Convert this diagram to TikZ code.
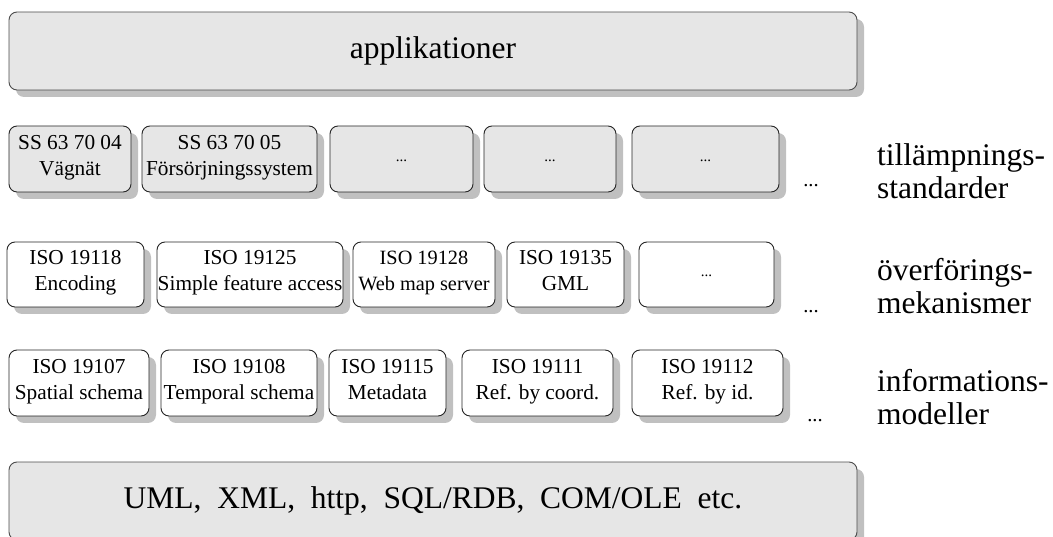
\documentclass[tikz,border=0pt]{standalone}
\usepackage{fontspec}
\setmainfont{Liberation Serif}
\usetikzlibrary{shadows}
\definecolor{boxgray}{HTML}{E6E6E6}
\definecolor{shadowgray}{HTML}{C0C0C0}
\begin{document}
\begin{tikzpicture}[x=1pt,y=-1pt,
  box/.style={draw=black!85, line width=0.9pt, rounded corners=8pt, inner sep=0pt,
    align=center, font=\fontsize{21.3}{26}\selectfont,
    drop shadow={shadow xshift=7pt, shadow yshift=-7pt, fill=shadowgray, opacity=1}},
  graybox/.style={box, fill=boxgray},
  whitebox/.style={box, fill=white},
  bigbox/.style={graybox, draw=black!70, minimum width=848pt, minimum height=78pt,
    font=\fontsize{31.5}{36}\selectfont},
  lbl/.style={anchor=west, align=left, inner sep=0pt, font=\fontsize{31.5}{33}\selectfont},
  more/.style={anchor=base, inner sep=0pt, font=\fontsize{20.5}{24}\selectfont},
  r1/.style={minimum height=66pt},
  r2/.style={minimum height=65pt},
  r3/.style={minimum height=66pt}
]
\useasboundingbox (0,0) rectangle (1053,537);
\newcommand{\smalldots}{\raisebox{-5pt}{\fontsize{15}{15}\selectfont ...}}
\newcommand{\twolines}[2]{#1\\#2\strut}

% top box
\node[bigbox] (app) at (433,51) {applikationer};

% row 1
\node[graybox, r1, minimum width=122pt] (a1) at (70,159) {\twolines{SS 63 70 04}{Vägnät}};
\node[graybox, r1, minimum width=175pt] (a2) at (229.5,159) {\twolines{SS 63 70 05}{Försörjningssystem}};
\node[graybox, r1, minimum width=143pt] (a3) at (401.5,159) {\smalldots};
\node[graybox, r1, minimum width=132pt] (a4) at (550,159) {\smalldots};
\node[graybox, r1, minimum width=147pt] (a5) at (705.5,159) {\smalldots};
\node[more] (d1) at (811,187) {...};
\node[lbl] (l1) at (877,171) {tillämpnings-\\standarder};

% row 2
\node[whitebox, r2, minimum width=137pt] (b1) at (75.5,274.5) {\twolines{ISO 19118}{Encoding}};
\node[whitebox, r2, minimum width=186pt] (b2) at (250,274.5) {\twolines{ISO 19125}{Simple feature access}};
\node[whitebox, r2, minimum width=142pt, font=\fontsize{20.3}{26}\selectfont] (b3) at (424,274.5) {\twolines{ISO 19128}{Web map server}};
\node[whitebox, r2, minimum width=117pt] (b4) at (565.5,274.5) {\twolines{ISO 19135}{GML}};
\node[whitebox, r2, minimum width=135pt] (b5) at (706.5,274.5) {\smalldots};
\node[more] (d2) at (811,313) {...};
\node[lbl] (l2) at (877,286) {överförings-\\mekanismer};

% row 3
\node[whitebox, r3, minimum width=140pt] (c1) at (79,383) {\twolines{ISO 19107}{Spatial schema}};
\node[whitebox, r3, minimum width=156pt] (c2) at (239,383) {\twolines{ISO 19108}{Temporal schema}};
\node[whitebox, r3, minimum width=117pt] (c3) at (387.5,383) {\twolines{ISO 19115}{Metadata}};
\node[whitebox, r3, minimum width=151pt] (c4) at (537.5,383) {\twolines{ISO 19111}{Ref. by coord.}};
\node[whitebox, r3, minimum width=151pt] (c5) at (707.5,383) {\twolines{ISO 19112}{Ref. by id.}};
\node[more] (d3) at (815,421) {...};
\node[lbl] (l3) at (877,397) {informations-\\modeller};

% bottom box
\node[bigbox] (base) at (433,501) {UML,\ \ XML,\ \ http,\ \ SQL/RDB,\ \ COM/OLE\ \ etc.};
\end{tikzpicture}
\end{document}
